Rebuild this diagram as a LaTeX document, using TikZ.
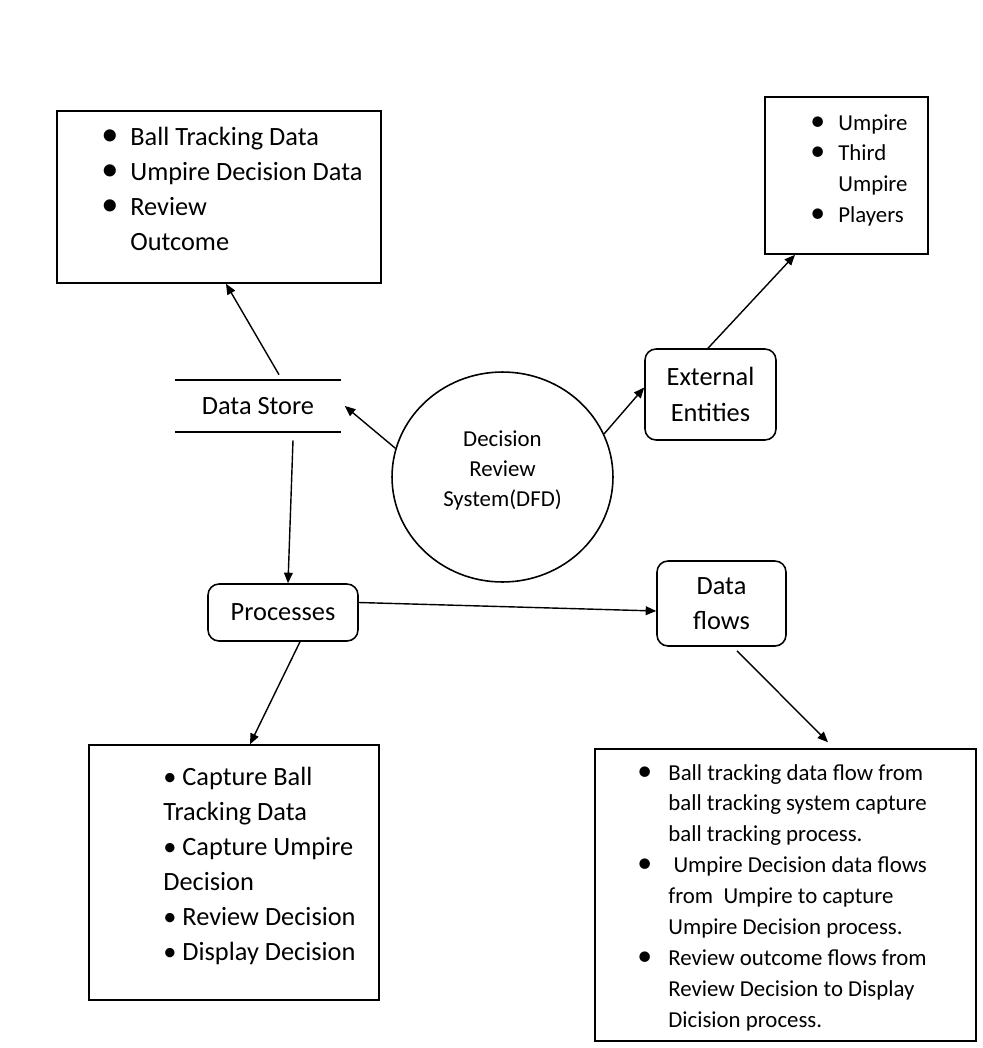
\documentclass[tikz,border=0pt]{standalone}
\usepackage{fontspec}
\setmainfont{Carlito}
\usetikzlibrary{arrows.meta,shapes.geometric}
\newcommand{\bigbul}{\scalebox{1.3}{\textbullet}}
\tikzset{
  box/.style={draw, line width=0.9pt, inner sep=0pt},
  rbox/.style={draw, line width=0.9pt, rounded corners=0.22cm, align=center,
    font=\fontsize{15}{20}\selectfont},
  bigtext/.style={inner sep=0pt, font=\fontsize{15}{20}\selectfont},
  smalltext/.style={inner sep=0pt, font=\fontsize{13}{17.6}\selectfont},
  flow/.style={-{Triangle[length=6pt,width=5pt]}, line width=0.8pt},
}
\begin{document}
\begin{tikzpicture}[x=0.02cm, y=-0.02cm]
      \useasboundingbox[fill=white] (0,0) rectangle (983,1048);
      % list boxes
      \node[box, minimum width=6.48cm, minimum height=3.44cm] (storelist) at (219,197) {};
      \node[box, minimum width=3.26cm, minimum height=3.14cm] (entlist) at (846.5,175.5) {};
      \node[box, minimum width=5.8cm, minimum height=5.1cm] (proclist) at (234,872.5) {};
      \node[box, minimum width=7.62cm, minimum height=5.84cm] (flowlist) at (785.5,895) {};
      \node[bigtext, anchor=base west] (storetext) at (101,145)
        {\begin{tabular}[t]{@{}p{0.58cm}@{}l@{}}
          \bigbul & Ball Tracking Data\\
          \bigbul & Umpire Decision Data\\
          \bigbul & Review\\
                  & Outcome
        \end{tabular}};
      \node[smalltext, anchor=base west] (enttext) at (810,130)
        {\begin{tabular}[t]{@{}p{0.56cm}@{}l@{}}
          \bigbul & Umpire\\
          \bigbul & Third\\
                  & Umpire\\
          \bigbul & Players
        \end{tabular}};
      \node[bigtext, anchor=base west] (proctext) at (163,785)
        {\begin{tabular}[t]{@{}l@{}}
          \textbullet\ Capture Ball\\
          Tracking Data\\
          \textbullet\ Capture Umpire\\
          Decision\\
          \textbullet\ Review Decision\\
          \textbullet\ Display Decision
        \end{tabular}};
      \node[smalltext, anchor=base west] (flowtext) at (637,780)
        {\begin{tabular}[t]{@{}p{0.62cm}@{}l@{}}
          \bigbul & Ball tracking data flow from\\
                  & ball tracking system capture\\
                  & ball tracking process.\\
          \bigbul & \ Umpire Decision data flows\\
                  & from\ \ Umpire to capture\\
                  & Umpire Decision process.\\
          \bigbul & Review outcome flows from\\
                  & Review Decision to Display\\
                  & Dicision process.
        \end{tabular}};
      % main parts
      \node[bigtext, minimum width=3.3cm, minimum height=1.04cm] (store) at (258,406) {Data Store};
      \draw[line width=1pt] (store.north west) -- (store.north east)
                            (store.south west) -- (store.south east);
      \node[draw, line width=0.9pt, ellipse, minimum width=4.42cm, minimum height=4.2cm,
        align=center, font=\fontsize{13}{17}\selectfont] (dfd) at (502.5,477)
        {Decision\\Review\\System(DFD)\rule[-0.33cm]{0pt}{0pt}};
      \node[rbox, minimum width=2.62cm, minimum height=1.82cm] (ext) at (710.5,394.5) {External\\Entities};
      \node[rbox, minimum width=3cm, minimum height=1.14cm] (proc) at (283,612.5) {Processes};
      \node[rbox, minimum width=2.58cm, minimum height=1.7cm] (flows) at (721.5,603.5) {Data\\flows};
      \begin{scope}[flow]
        \draw ([xshift=0.42cm,yshift=0.1cm]store.north) to ([xshift=0.14cm]storelist.south);
        \draw (dfd.165) to ([xshift=0.08cm]store.east);
        \draw ([xshift=0.7cm,yshift=-0.16cm]store.south) to ([xshift=0.1cm]proc.north);
        \draw (dfd.23) to ([yshift=0.14cm]ext.west);
        \draw ([xshift=-0.05cm]ext.north) to ([xshift=-1.03cm]entlist.south);
        \draw ([yshift=0.2cm]proc.east) to ([yshift=-0.15cm]flows.west);
        \draw ([xshift=0.34cm]proc.south) to ([xshift=0.32cm]proclist.north);
        \draw ([xshift=0.31cm,yshift=-0.08cm]flows.south) to ([xshift=0.85cm,yshift=0.12cm]flowlist.north);
      \end{scope}
    \end{tikzpicture}
\end{document}
